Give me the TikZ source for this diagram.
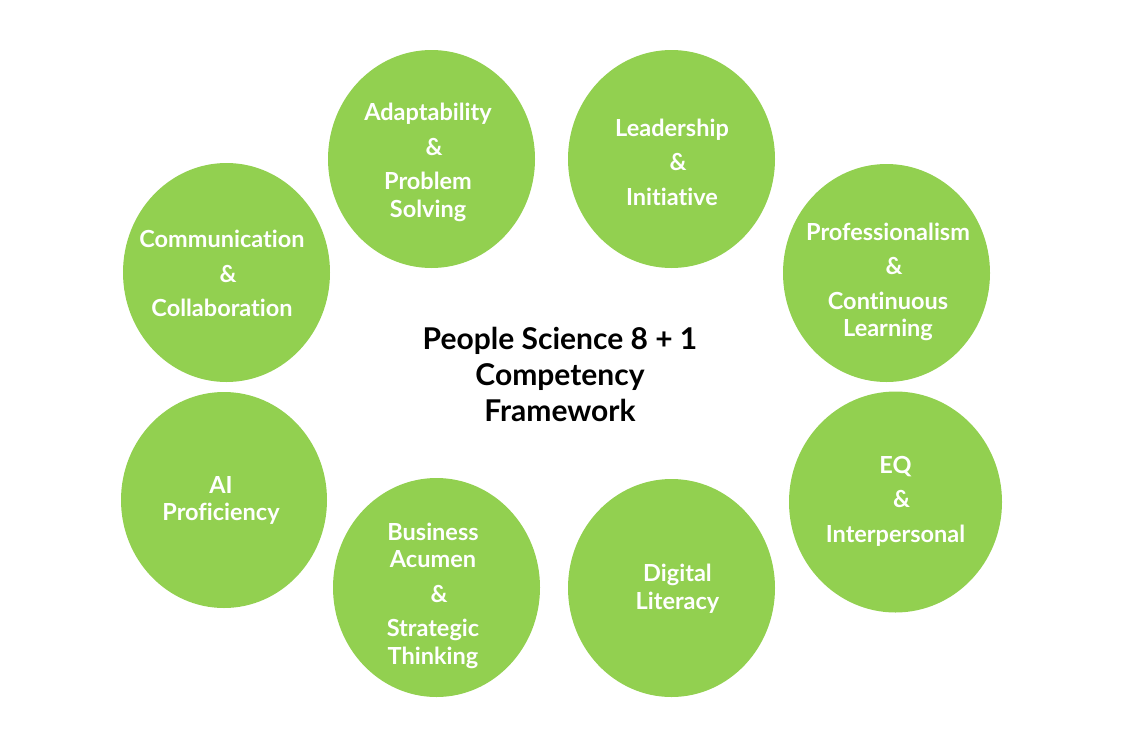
\documentclass[tikz,border=0pt]{standalone}
\usepackage{fontspec}
\usepackage{xcolor}
\setmainfont{Lato}[Ligatures=NoCommon]

\definecolor{ballgreen}{RGB}{146,208,80}
\newcommand{\andsign}{\hspace*{12pt}\&}

\begin{document}
\begin{tikzpicture}[x=1pt,y=1pt,yscale=-1,xscale=1,
  ball/.style={fill=ballgreen},
  lbl/.style={text=white,font=\bfseries\fontsize{23.5}{27.5}\selectfont,align=center,inner sep=0pt}]
\useasboundingbox (0,0) rectangle (1121,747);

%Shape: Ellipse [Adaptability]
\fill [ball] (431.5,159) ellipse [x radius=103.5, y radius=109];
%Shape: Ellipse [Leadership]
\fill [ball] (671.5,159) ellipse [x radius=103.5, y radius=109];
%Shape: Ellipse [Communication]
\fill [ball] (226.5,272.5) ellipse [x radius=103.5, y radius=109.5];
%Shape: Ellipse [Professionalism]
\fill [ball] (886.5,273) ellipse [x radius=103.5, y radius=109];
%Shape: Ellipse [AI]
\fill [ball] (224,500) ellipse [x radius=103, y radius=108];
%Shape: Ellipse [EQ]
\fill [ball] (895.5,502) ellipse [x radius=106.5, y radius=110.5];
%Shape: Ellipse [Business]
\fill [ball] (436.5,587.5) ellipse [x radius=103.5, y radius=109.5];
%Shape: Ellipse [Digital]
\fill [ball] (671.5,588) ellipse [x radius=103.5, y radius=109];

% Text Node
\node (adapt) at (428,162.5) [lbl] {Adaptability\\[7pt]\andsign\\[7pt]Problem\\Solving};
% Text Node
\node (lead) at (672,162) [lbl] {Leadership\\[7pt]\andsign\\[7pt]Initiative};
% Text Node
\node (comm) at (222,273.5) [lbl] {Communication\\[7pt]\andsign\\[7pt]Collaboration};
% Text Node
\node (prof) at (888,282) [lbl] {Professionalism\\[7pt]\andsign\\[7pt]Continuous\\Learning};
% Text Node
\node (ai) at (221,500.5) [lbl] {AI\\Proficiency};
% Text Node
\node (eq) at (895.5,501) [lbl] {EQ\\[7pt]\andsign\\[7pt]Interpersonal};
% Text Node
\node (biz) at (433,595.5) [lbl] {Business\\Acumen\\[7pt]\andsign\\[7pt]Strategic\\Thinking};
% Text Node
\node (digi) at (677.5,588.5) [lbl] {Digital\\Literacy};
% Text Node
\node (title) at (560,374.5) [font=\bfseries\fontsize{30}{36}\selectfont,align=center,inner sep=0pt] {People Science 8 + 1\\Competency\\Framework};

\end{tikzpicture}
\end{document}
